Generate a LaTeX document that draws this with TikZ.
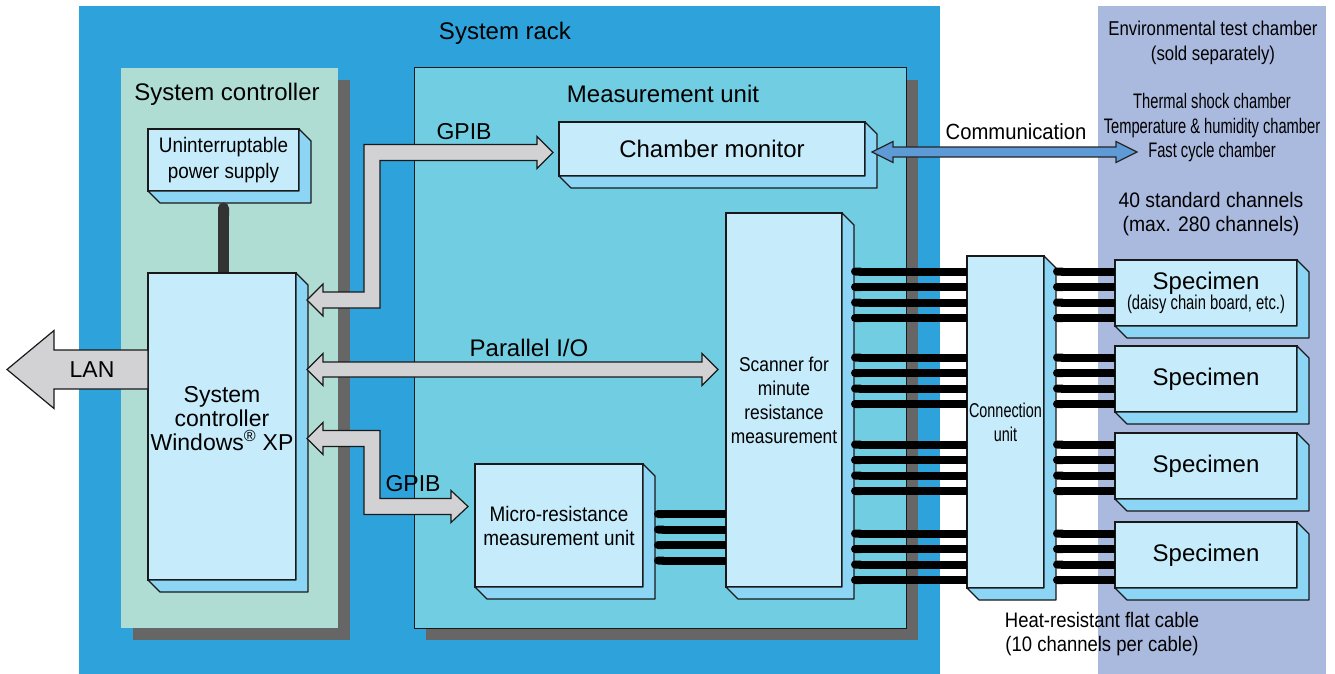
\documentclass[tikz,border=0pt]{standalone}
\usepackage{fontspec}
\setmainfont{Liberation Sans}
\usetikzlibrary{calc,arrows.meta}

\definecolor{rackblue}{HTML}{2EA3DB}
\definecolor{envblue}{HTML}{AAB9DE}
\definecolor{ctlgreen}{HTML}{B0DDD3}
\definecolor{mucyan}{HTML}{71CDE1}
\definecolor{shadowgray}{HTML}{666666}
\definecolor{boxfront}{HTML}{C6EBFA}
\definecolor{boxdepth}{HTML}{8CD5F5}
\definecolor{busgray}{HTML}{D2D2D4}
\definecolor{commblue}{HTML}{5E9AD6}
\definecolor{linkdark}{HTML}{333333}

\newcommand\fs[2]{\fontsize{#1}{#2}\selectfont}
\newcommand\narrow[1]{\addfontfeature{FakeStretch=#1}}
% side and bottom faces of a unit box
\newcommand\depthof[1]{\filldraw[depthface] (#1.north east) -- ++(12,12) -- ($(#1.south east)+(12,12)$) -- ($(#1.south west)+(12,12)$) -- (#1.south west) -- (#1.south east) -- cycle;}
% straight double block arrow: style, from, to, head length, head half width, shaft half width
\newcommand\hbus[6]{\filldraw[#1] let \p1=(#2), \p2=(#3) in (\p1) -- (\x1+#4pt,\y1+#5pt) -- (\x1+#4pt,\y1+#6pt) -- (\x2-#4pt,\y1+#6pt) -- (\x2-#4pt,\y1+#5pt) -- (\p2) -- (\x2-#4pt,\y1-#5pt) -- (\x2-#4pt,\y1-#6pt) -- (\x1+#4pt,\y1-#6pt) -- (\x1+#4pt,\y1-#5pt) -- cycle;}

\tikzset{
  unit/.style={draw=black!90, line width=1.2pt, fill=boxfront, inner sep=0pt, outer sep=0pt, align=center},
  depthface/.style={draw=black!90, line width=1.2pt, fill=boxdepth, line join=round},
  lbl/.style={inner sep=0pt, align=center},
  cable/.style={line width=8pt, black, {Round Cap[]}-},
  upslink/.style={line width=11pt, linkdark, {Round Cap[]}-},
  bus/.style={draw=black!90, line width=1.2pt, fill=busgray},
  commbus/.style={draw=black!85, line width=1.2pt, fill=commblue},
}

\begin{document}
\begin{tikzpicture}[x=1pt,y=-1pt]
\useasboundingbox (0,0) rectangle (1335,674);
    % Backgrounds
    \fill[rackblue] (79,6) rectangle (940,674);
    \fill[envblue] (1098,6) rectangle (1326,674);
    \fill[shadowgray] (133,80) rectangle (350,640);
    \fill[ctlgreen] (121,68) rectangle (338,628);
    \fill[shadowgray] (426,80) rectangle (918,640);
    \filldraw[mucyan, draw=black!90, line width=1pt] (414,68) rectangle (906,628);

    \node[lbl, font=\fs{24}{25}] (racklbl) at (505,33) {System rack};
    \node[lbl, font=\fs{24}{25}] (ctllbl) at (227,94) {System controller};
    \node[lbl, font=\fs{24}{25}] (mulbl) at (663,94) {Measurement unit};
    \node[lbl, font=\fs{20}{25}\narrow{0.84}] (envlbl) at (1213,43) {Environmental test chamber\\(sold separately)};

    % Units
    \node[unit, minimum width=151pt, minimum height=62pt, font=\fs{21}{26}\narrow{0.9}] (ups) at (223.5,160) {\rule{0pt}{13pt}Uninterruptable\\power supply};
    \depthof{ups}
    \draw[upslink] ($(ups.south)+(0,11.5)$) coordinate (upsl) -- (upsl |- 0,273);
    \node[unit, minimum width=148pt, minimum height=307pt] (ctl) at (222,426.5) {};
    \depthof{ctl}
    \node[lbl, font=\fs{23}{24}] (ctltxt) at (222,419) {System\\controller\\Windows\textsuperscript{®} XP};

    \node[unit, minimum width=306pt, minimum height=54pt, font=\fs{24}{25}] (cm) at (712,149) {Chamber monitor};
    \depthof{cm}
    \node[unit, minimum width=116pt, minimum height=374pt, font=\fs{20}{24}\narrow{0.87}] (scan) at (784,400) {Scanner for\\minute\\resistance\\measurement};
    \depthof{scan}
    \node[unit, minimum width=168pt, minimum height=123pt, font=\fs{21}{24}\narrow{0.9}] (mru) at (559,525.5) {Micro-resistance\\measurement unit};
    \depthof{mru}
    \node[unit, minimum width=77pt, minimum height=332pt, font=\fs{20}{24}\narrow{0.72}] (conn) at (1005.5,422) {Connection\\unit};
    \depthof{conn}

    \node[unit, minimum width=182pt, minimum height=66pt] (spec1) at (1206,293) {{\fs{24}{24}Specimen}\\{\fs{20}{22}\narrow{0.74}(daisy chain board, etc.)}};
    \depthof{spec1}
    \foreach \s/\y in {spec2/379, spec3/466, spec4/555} {
      \node[unit, minimum width=182pt, minimum height=66pt, font=\fs{24}{25}] (\s) at (1206,\y) {Specimen};
      \depthof{\s}
    }

    % Flat cables
    \foreach \dy in {-11.5,4,19.5,35}
      \draw[cable] ($(mru.east)+(11,\dy)$) coordinate (c) -- (c -| scan.west);
    \foreach \s in {spec1,spec2,spec3,spec4}
      \foreach \dy in {-21.5,-6,9.5,25} {
        \draw[cable] ($(scan.east |- \s.west)+(9,\dy)$) coordinate (c) -- (c -| conn.west);
        \draw[cable] ($(conn.east |- \s.west)+(9,\dy)$) coordinate (c) -- (c -| \s.west);
      }

    % Buses
    \coordinate (g1a) at ($(ctl.north east)+(11,27)$);
    \coordinate (g1b) at ($(cm.west)+(-6,3.5)$);
    \filldraw[bus] let \p1=(g1a), \p2=(g1b), \p3=($(g1a)+(65,0)$) in (\p1) -- (\x1+16pt,\y1+16pt) -- (\x1+16pt,\y1+8pt) -- (\x3-8pt,\y1+8pt) -- (\x3-8pt,\y2+8pt) -- (\x2-16pt,\y2+8pt) -- (\x2-16pt,\y2+16pt) -- (\p2) -- (\x2-16pt,\y2-16pt) -- (\x2-16pt,\y2-8pt) -- (\x3+8pt,\y2-8pt) -- (\x3+8pt,\y1-8pt) -- (\x1+16pt,\y1-8pt) -- (\x1+16pt,\y1-16pt) -- cycle;

    \coordinate (g2a) at ($(ctl.north east)+(11,165.5)$);
    \coordinate (g2b) at ($(mru.west)+(-7,-19)$);
    \filldraw[bus] let \p1=(g2a), \p2=(g2b), \p3=($(g2a)+(65,0)$) in (\p1) -- (\x1+16pt,\y1+16pt) -- (\x1+16pt,\y1+8pt) -- (\x3+8pt,\y1+8pt) -- (\x3+8pt,\y2+8pt) -- (\x2-17pt,\y2+8pt) -- (\x2-17pt,\y2+16pt) -- (\p2) -- (\x2-17pt,\y2-16pt) -- (\x2-17pt,\y2-8pt) -- (\x3-8pt,\y2-8pt) -- (\x3-8pt,\y1-8pt) -- (\x1+16pt,\y1-8pt) -- (\x1+16pt,\y1-16pt) -- cycle;

    \coordinate (pa) at ($(ctl.north east)+(11,96.5)$);
    \coordinate (pb) at ($(scan.west |- pa)+(-8,0)$);
    \hbus{bus}{pa}{pb}{16}{16}{7.5}

    % LAN
    \coordinate (lan) at ($(ctl.west |- pa)+(-141,0)$);
    \filldraw[bus] let \p1=(lan), \p2=(ctl.west |- pa) in (\p1) -- (\x1+47pt,\y1+39pt) -- (\x1+47pt,\y1+19.5pt) -- (\x2,\y1+19.5pt) -- (\x2,\y1-19.5pt) -- (\x1+47pt,\y1-19.5pt) -- (\x1+47pt,\y1-39pt) -- cycle;

    % Communication
    \coordinate (ca) at ($(cm.east)+(7,3)$);
    \coordinate (cb) at ($(ca)+(265,0)$);
    \hbus{commbus}{ca}{cb}{21}{10.5}{5}

    % Texts
    \node[lbl, font=\fs{23}{25}] (lanlbl) at (92,370) {LAN};
    \node[lbl, font=\fs{23}{25}] (gpib1) at (464,132) {GPIB};
    \node[lbl, font=\fs{23}{25}] (gpib2) at (413,484) {GPIB};
    \node[lbl, font=\fs{24}{25}] (pio) at (529,348) {Parallel I/O};
    \node[lbl, font=\fs{22}{25}\narrow{0.92}] (comm) at (1016,132) {Communication};
    \node[lbl, font=\fs{21}{24.5}\narrow{0.7}] (types) at (1212,128) {Thermal shock chamber\\Temperature \& humidity chamber\\Fast cycle chamber};
    \node[lbl, font=\fs{21}{24}\narrow{0.92}] (chans) at (1211,214) {40 standard channels\\(max. 280 channels)};
    \node[lbl, font=\fs{21}{24}\narrow{0.88}] (flat) at (1102,634) {Heat-resistant flat cable\\(10 channels per cable)};
\end{tikzpicture}
\end{document}
